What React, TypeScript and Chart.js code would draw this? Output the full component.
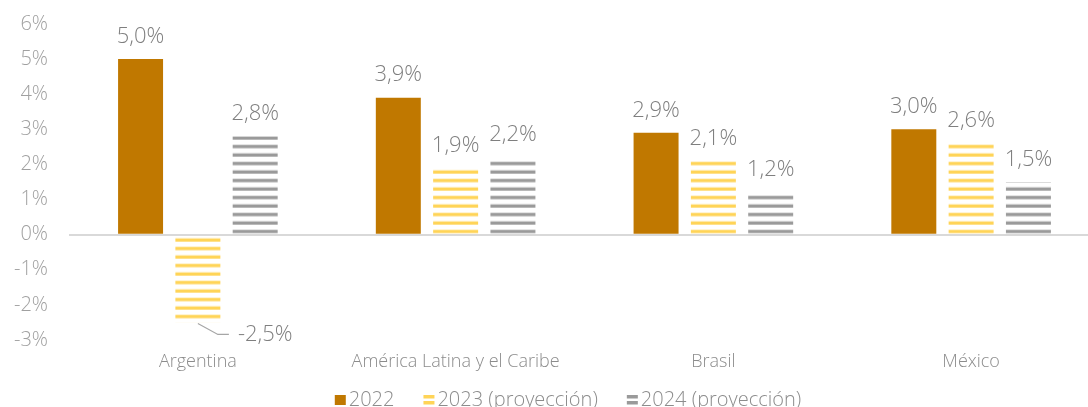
import React, { useEffect, useRef } from "react";
import { Chart, registerables } from "chart.js";

Chart.register(...registerables);

const categories = ["Argentina", "América Latina y el Caribe", "Brasil", "México"];
const seriesLabels = ["2022", "2023 (proyección)", "2024 (proyección)"];
const values2022 = [5.0, 3.9, 2.9, 3.0];
const values2023 = [-2.5, 1.9, 2.1, 2.6];
const values2024 = [2.8, 2.2, 1.2, 1.5];
const yMin = -3;
const yMax = 6;

const FONT = "'Open Sans', sans-serif";
const BROWN = "#C07800";
const YELLOW = "#FFD457";
const GRAY = "#9A9A9A";

function makeStripePattern(color: string): CanvasPattern | string {
  const c = document.createElement("canvas");
  c.width = 4;
  c.height = 17;
  const g = c.getContext("2d");
  if (!g) return color;
  g.fillStyle = color;
  g.fillRect(0, 3.7, 4, 3.3);
  g.fillRect(0, 12.2, 4, 3.3);
  const ctx = document.createElement("canvas").getContext("2d");
  const p = ctx ? ctx.createPattern(c, "repeat") : null;
  return p || color;
}

function fmt(v: number) {
  return v.toFixed(1).replace(".", ",") + "%";
}

export default function App() {
  const ref = useRef<HTMLCanvasElement | null>(null);

  useEffect(() => {
    if (!ref.current) return;
    const yellowPat = makeStripePattern(YELLOW);
    const grayPat = makeStripePattern(GRAY);

    const anchorPlugin = {
      id: "anchorPatterns",
      beforeDatasetsDraw(chart: any) {
        const zy = chart.scales.y.getPixelForValue(0);
        [yellowPat, grayPat].forEach((p: any) => {
          if (p && typeof p !== "string" && p.setTransform) {
            p.setTransform(new DOMMatrix([1, 0, 0, 1, 0, zy]));
          }
        });
      },
    };

    const labelPlugin = {
      id: "dataLabels",
      afterDatasetsDraw(chart: any) {
        const ctx = chart.ctx;
        ctx.save();
        ctx.font = `300 22px ${FONT}`;
        ctx.fillStyle = "#7F7F7F";
        ctx.textBaseline = "middle";
        chart.data.datasets.forEach((ds: any, di: number) => {
          const meta = chart.getDatasetMeta(di);
          meta.data.forEach((el: any, i: number) => {
            const v = ds.data[i];
            const txt = fmt(v);
            if (v >= 0) {
              ctx.textAlign = "center";
              ctx.fillText(txt, el.x, el.y - 22.5);
            } else {
              const by = el.y;
              ctx.strokeStyle = "#A6A6A6";
              ctx.lineWidth = 1.2;
              ctx.beginPath();
              ctx.moveTo(el.x, by + 1);
              ctx.lineTo(el.x + 20, by + 12);
              ctx.lineTo(el.x + 31, by + 12);
              ctx.stroke();
              ctx.textAlign = "left";
              ctx.fillText(txt, el.x + 40, by + 12);
            }
          });
        });
        ctx.restore();
      },
    };

    const legendPlugin = {
      id: "customLegend",
      afterDraw(chart: any) {
        const ctx = chart.ctx;
        ctx.save();
        ctx.font = `300 20px ${FONT}`;
        ctx.textBaseline = "middle";
        const box = 11;
        const gapBox = 3;
        const gapItem = 29;
        const widths = seriesLabels.map((t) => ctx.measureText(t).width);
        const total =
          widths.reduce((a, b) => a + b, 0) + seriesLabels.length * (box + gapBox) + gapItem * (seriesLabels.length - 1);
        let x = 568 - total / 2;
        const y = 400;
        seriesLabels.forEach((t, i) => {
          if (i === 0) {
            ctx.fillStyle = BROWN;
            ctx.fillRect(x, y - 5, box, 10);
          } else {
            ctx.fillStyle = i === 1 ? YELLOW : GRAY;
            ctx.fillRect(x, y - 5, box, 3.5);
            ctx.fillRect(x, y + 1, box, 3.5);
          }
          x += box + gapBox;
          ctx.fillStyle = "#8C8C8C";
          ctx.textAlign = "left";
          ctx.fillText(t, x, y);
          x += widths[i] + gapItem;
        });
        ctx.restore();
      },
    };

    const chart = new Chart(ref.current, {
      type: "bar",
      data: {
        labels: categories,
        datasets: [
          { label: seriesLabels[0], data: values2022, backgroundColor: BROWN },
          { label: seriesLabels[1], data: values2023, backgroundColor: yellowPat as any },
          { label: seriesLabels[2], data: values2024, backgroundColor: grayPat as any },
        ],
      },
      options: {
        responsive: true,
        maintainAspectRatio: false,
        animation: false,
        layout: { padding: { top: 24, left: 0, right: 0, bottom: 0 } },
        datasets: {
          bar: { categoryPercentage: 0.667, barPercentage: 0.785 },
        },
        plugins: {
          legend: { display: false },
          tooltip: { enabled: false },
        },
        scales: {
          x: {
            grid: { display: false, drawTicks: false },
            border: { display: false },
            ticks: {
              color: "#8C8C8C",
              font: { family: FONT, size: 18, weight: "300" as any },
              padding: 11,
              maxRotation: 0,
              autoSkip: false,
            },
            afterFit(scale: any) {
              scale.height = 67;
              scale.paddingLeft = 0;
              scale.paddingRight = 0;
            },
          },
          y: {
            min: yMin,
            max: yMax,
            grid: {
              drawTicks: false,
              color: (c: any) => (c.tick && c.tick.value === 0 ? "#D9D9D9" : "rgba(0,0,0,0)"),
              lineWidth: 2,
            },
            border: { display: false },
            ticks: {
              stepSize: 1,
              color: "#A0A0A0",
              font: { family: FONT, size: 20, weight: "300" as any },
              padding: 21,
              callback: (v: any) => `${v}%`,
            },
            afterFit(scale: any) {
              scale.width = 69;
              scale.paddingTop = 0;
              scale.paddingBottom = 0;
            },
          },
        },
      },
      plugins: [anchorPlugin, labelPlugin, legendPlugin],
    });
    return () => chart.destroy();
  }, []);

  return (
    <div
      style={{
        position: "fixed",
        left: 0,
        top: 0,
        width: 1088,
        height: 407,
        overflow: "hidden",
        background: "#fff",
      }}
    >
      <div style={{ position: "relative", width: 1100, height: 407 }}>
        <canvas ref={ref} />
      </div>
    </div>
  );
}
